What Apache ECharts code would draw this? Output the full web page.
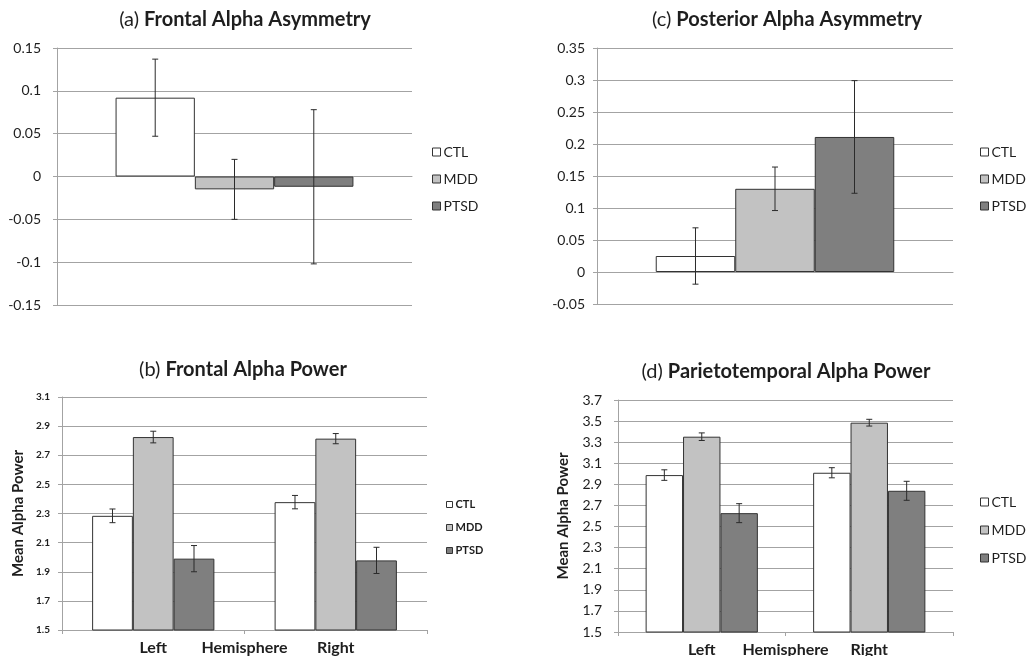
<!DOCTYPE html>
<html>
<head>
<meta charset="utf-8">
<script src="https://cdn.jsdelivr.net/npm/echarts@6/dist/echarts.min.js"></script>
<style>
  html, body { margin: 0; padding: 0; background: #fff; }
  #chart { width: 1027px; height: 656px; }
</style>
</head>
<body>
<div id="chart"></div>
<script>
const groups = ['CTL', 'MDD', 'PTSD']
const groupColors = ['#ffffff', '#c2c2c2', '#7f7f7f']
const hemispheres = ['Left', 'Right']

// (a) frontal alpha asymmetry, one value per group
const frontalAsymMean = [[0.092], [-0.015], [-0.012]]
const frontalAsymErr = [[0.045], [0.035], [0.09]]
const frontalAsymTicks = [-0.15, -0.1, -0.05, 0, 0.05, 0.1, 0.15]

// (c) posterior alpha asymmetry
const posteriorAsymMean = [[0.025], [0.13], [0.211]]
const posteriorAsymErr = [[0.044], [0.034], [0.088]]
const posteriorAsymTicks = [-0.05, 0, 0.05, 0.1, 0.15, 0.2, 0.25, 0.3, 0.35]

// (b) frontal alpha power, rows = groups, cols = Left / Right
const frontalPowerMean = [[2.284, 2.378], [2.825, 2.814], [1.99, 1.978]]
const frontalPowerErr = [[0.047, 0.046], [0.04, 0.035], [0.09, 0.09]]
const frontalPowerTicks = [1.5, 1.7, 1.9, 2.1, 2.3, 2.5, 2.7, 2.9, 3.1]

// (d) parietotemporal alpha power
const parietoPowerMean = [[2.988, 3.01], [3.352, 3.485], [2.627, 2.839]]
const parietoPowerErr = [[0.05, 0.048], [0.036, 0.032], [0.09, 0.09]]
const parietoPowerTicks = [1.5, 1.7, 1.9, 2.1, 2.3, 2.5, 2.7, 2.9, 3.1, 3.3, 3.5, 3.7]

const FONT = 'Lato'
const GRID_COLOR = '#a3a3a3'
const TEXT_COLOR = '#1e1e1e'
const CAT_GAP = 0.33

const chart = echarts.init(document.getElementById('chart'))

// error bars drawn on top of the grouped bars
const renderErrorBar = (params, api) => {
  const cat = api.value(0)
  const mean = api.value(1)
  const err = api.value(2)
  const idx = api.value(3)
  const band = api.size([1, 0])[0]
  const barW = band * (1 - CAT_GAP) / groups.length
  const x = api.coord([cat, mean])[0] + (idx - 1) * barW
  const yTop = api.coord([cat, mean + err])[1]
  const yBot = api.coord([cat, mean - err])[1]
  const style = { stroke: '#2b2b2b', lineWidth: 1 }
  return {
    type: 'group',
    children: [
      { type: 'line', shape: { x1: x, y1: yTop, x2: x, y2: yBot }, style },
      { type: 'line', shape: { x1: x - 3, y1: yTop, x2: x + 3, y2: yTop }, style },
      { type: 'line', shape: { x1: x - 3, y1: yBot, x2: x + 3, y2: yBot }, style }
    ]
  }
}

const option = {
  animation: false,
  backgroundColor: '#fff',
  title: [],
  legend: [],
  grid: [],
  xAxis: [],
  yAxis: [],
  series: []
}

const addPanel = (p) => {
  const gi = option.grid.length
  option.grid.push({ left: p.left, top: p.top, width: p.width, height: p.height, outerBoundsMode: 'none' })

  option.title.push({
    text: '{n|' + p.tag + '} {b|' + p.title + '}',
    left: p.titleX,
    top: p.titleY,
    textAlign: 'center',
    padding: 0,
    textStyle: {
      fontWeight: 'normal',
      rich: {
        n: { fontFamily: FONT, fontSize: 20, fontWeight: 'normal', color: TEXT_COLOR },
        b: { fontFamily: FONT, fontSize: 20, fontWeight: 'bold', color: TEXT_COLOR }
      }
    }
  })

  option.legend.push({
    data: groups,
    orient: 'vertical',
    left: p.legend.left,
    top: p.legend.top,
    padding: 0,
    itemGap: p.legend.gap,
    itemWidth: p.legend.size,
    itemHeight: p.legend.size,
    icon: 'rect',
    selectedMode: false,
    itemStyle: { borderColor: '#333', borderWidth: 1 },
    textStyle: {
      fontFamily: FONT,
      fontSize: p.legend.fontSize,
      fontWeight: p.legend.bold ? 'bold' : 'normal',
      color: TEXT_COLOR,
      padding: [0, 0, 0, -2]
    }
  })

  const hasCats = p.cats.length > 1
  option.xAxis.push({
    gridIndex: gi,
    type: 'category',
    data: p.cats,
    name: p.xName || '',
    nameLocation: 'middle',
    nameGap: 10,
    nameMoveOverlap: false,
    nameTextStyle: { fontFamily: FONT, fontSize: 16, fontWeight: 'bold', color: TEXT_COLOR },
    axisLine: { show: true, onZero: true, lineStyle: { color: GRID_COLOR, width: 1 } },
    axisTick: { show: hasCats, length: 4, lineStyle: { color: GRID_COLOR } },
    axisLabel: { show: hasCats, margin: 10, fontFamily: FONT, fontSize: 16, fontWeight: 'bold', color: TEXT_COLOR },
    splitLine: { show: false }
  })

  option.yAxis.push({
    gridIndex: gi,
    type: 'value',
    min: p.ticks[0],
    max: p.ticks[p.ticks.length - 1],
    name: p.yName || '',
    nameLocation: 'middle',
    nameGap: p.yNameGap || 0,
    nameMoveOverlap: false,
    nameTextStyle: { fontFamily: FONT, fontSize: 15, fontWeight: 'bold', color: TEXT_COLOR },
    axisLine: { show: true, lineStyle: { color: GRID_COLOR, width: 1 } },
    axisTick: { show: true, length: 4, customValues: p.ticks, lineStyle: { color: GRID_COLOR } },
    axisLabel: {
      customValues: p.ticks,
      margin: p.labelMargin,
      fontFamily: FONT,
      fontSize: p.labelSize,
      fontWeight: p.labelBold ? 'bold' : 'normal',
      color: TEXT_COLOR,
      formatter: (v) => String(+v.toFixed(2))
    },
    splitLine: { show: true, lineStyle: { color: GRID_COLOR, width: 1 } }
  })

  const errData = []
  groups.forEach((g, i) => {
    option.series.push({
      name: g,
      type: 'bar',
      xAxisIndex: gi,
      yAxisIndex: gi,
      data: p.mean[i],
      barGap: 0,
      barCategoryGap: '33%',
      itemStyle: { color: groupColors[i], borderColor: '#333', borderWidth: 1 }
    })
    p.mean[i].forEach((m, c) => errData.push([c, m, p.err[i][c], i]))
  })
  option.series.push({
    type: 'custom',
    xAxisIndex: gi,
    yAxisIndex: gi,
    z: 5,
    data: errData,
    renderItem: renderErrorBar
  })
}

addPanel({
  tag: '(a)', title: 'Frontal Alpha Asymmetry', titleX: 245, titleY: 10,
  left: 57, top: 48, width: 355, height: 257,
  cats: [''], mean: frontalAsymMean, err: frontalAsymErr, ticks: frontalAsymTicks,
  labelSize: 14, labelMargin: 16,
  legend: { left: 432, top: 145, gap: 13, size: 8, fontSize: 14 }
})

addPanel({
  tag: '(c)', title: 'Posterior Alpha Asymmetry', titleX: 787, titleY: 10,
  left: 597, top: 48, width: 356, height: 256,
  cats: [''], mean: posteriorAsymMean, err: posteriorAsymErr, ticks: posteriorAsymTicks,
  labelSize: 14, labelMargin: 12,
  legend: { left: 980, top: 145, gap: 13, size: 8, fontSize: 14 }
})

addPanel({
  tag: '(b)', title: 'Frontal Alpha Power', titleX: 243, titleY: 360,
  left: 62, top: 397, width: 365, height: 233,
  cats: hemispheres, xName: 'Hemisphere', yName: 'Mean Alpha Power', yNameGap: 36,
  mean: frontalPowerMean, err: frontalPowerErr, ticks: frontalPowerTicks,
  labelSize: 10, labelBold: true, labelMargin: 12,
  legend: { left: 446, top: 499, gap: 12, size: 6, fontSize: 11, bold: true }
})

addPanel({
  tag: '(d)', title: 'Parietotemporal Alpha Power', titleX: 786, titleY: 362,
  left: 618, top: 400, width: 335, height: 232,
  cats: hemispheres, xName: 'Hemisphere', yName: 'Mean Alpha Power', yNameGap: 47,
  mean: parietoPowerMean, err: parietoPowerErr, ticks: parietoPowerTicks,
  labelSize: 14, labelMargin: 16,
  legend: { left: 980, top: 495, gap: 14, size: 8, fontSize: 14 }
})

chart.setOption(option)
</script>
</body>
</html>
